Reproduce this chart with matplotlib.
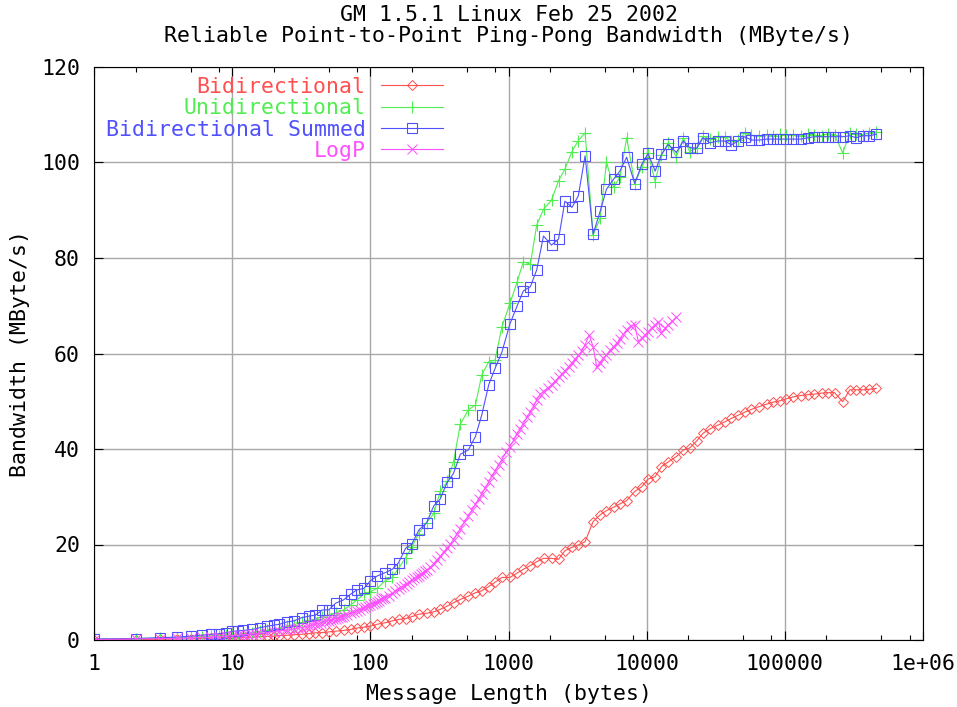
import matplotlib
matplotlib.use('Agg')
import matplotlib.pyplot as plt
from matplotlib.ticker import FixedLocator, LogLocator, NullFormatter

# message lengths (bytes) of the measured curves
lengths = [1, 2, 3, 4, 5, 6, 7, 8, 9, 10, 11, 12, 14,
           16, 18, 20, 22, 25, 28,
           32, 36, 40, 45, 50, 56,
           64, 72, 80, 90, 100, 112,
           128, 144, 160, 180, 200, 224,
           256, 288, 320, 360, 400, 448,
           512, 576, 640, 720, 800, 896,
           1024, 1152, 1280, 1440, 1600, 1792,
           2048, 2304, 2560, 2880, 3200, 3584,
           4096, 4608, 5120, 5760, 6400, 7168,
           8192, 9216, 10240, 11520, 12800, 14336,
           16384, 18432, 20480, 23040, 25600, 28672,
           32768, 36864, 40960, 46080, 51200, 57344,
           65536, 73728, 81920, 92160, 102400, 114688,
           131072, 147456, 163840, 184320, 204800, 229376,
           262144, 294912, 327680, 368640, 409600, 458752]

bidir = [0.1, 0.1, 0.15, 0.2, 0.25, 0.3, 0.35, 0.4, 0.45, 0.5, 0.5, 0.55, 0.6,
         0.7, 0.75, 0.8, 0.9, 1.0, 1.1,
         1.2, 1.35, 1.5, 1.55, 1.7, 1.85,
         2.0, 2.2, 2.5, 2.7, 2.9, 3.3,
         3.6, 4.0, 4.3, 4.5, 4.9, 5.4,
         5.6, 5.9, 6.4, 7.1, 7.8, 8.5,
         9.2, 9.9, 10.3, 11.2, 12.1, 13.1,
         13.1, 14.0, 14.8, 15.6, 16.4, 17.1,
         17.1, 16.9, 18.7, 19.4, 19.9, 20.6,
         24.8, 26.2, 27.1, 27.8, 28.5, 29.2,
         31.1, 32.1, 33.7, 34.2, 36.3, 37.3,
         38.4, 39.8, 40.2, 41.7, 43.3, 44.2,
         45.0, 45.7, 46.4, 47.1, 47.7, 48.3,
         48.9, 49.4, 49.8, 50.1, 50.5, 50.9,
         51.2, 51.4, 51.5, 51.7, 51.8, 51.8,
         49.9, 52.4, 52.4, 52.4, 52.5, 52.7]

unidir = [0.2, 0.3, 0.4, 0.5, 0.6, 0.7, 0.8, 0.9, 1.0, 1.1, 1.2, 1.3, 1.5,
          1.8, 2.0, 2.3, 2.5, 2.9, 3.2,
          3.7, 4.1, 4.4, 4.9, 5.2, 5.6,
          6.3, 7.3, 8.4, 9.6, 10.1, 10.8,
          12.4, 13.1, 15.0, 17.2, 19.5, 22.3,
          24.6, 26.5, 31.1, 33.2, 37.3, 45.2,
          48.2, 49.2, 55.5, 58.3, 58.6, 65.6,
          70.5, 74.9, 79.2, 78.7, 86.9, 90.2,
          92.1, 96.2, 98.6, 102.3, 104.6, 106.2,
          84.8, 88.3, 100.1, 94.8, 96.9, 105.2,
          95.6, 99.0, 101.9, 96.0, 101.5, 104.1,
          101.2, 105.1, 102.3, 103.0, 105.5, 104.9,
          105.4, 105.3, 104.4, 104.7, 106.1, 105.7,
          105.5, 105.8, 105.6, 105.9, 105.7, 105.8,
          105.6, 105.9, 105.7, 105.6, 106.0, 105.8,
          102.0, 106.1, 106.0, 105.8, 106.2, 106.4]

summed = [0.2, 0.3, 0.5, 0.6, 0.8, 1.0, 1.2, 1.3, 1.5, 1.8, 1.9, 2.0, 2.2,
          2.6, 2.9, 3.1, 3.3, 3.8, 4.0,
          4.7, 5.0, 5.2, 6.3, 6.3, 7.7,
          8.4, 9.6, 10.5, 10.8, 12.4, 13.4,
          14.1, 14.8, 16.2, 19.2, 20.1, 23.0,
          24.6, 28.1, 29.5, 33.0, 34.9, 38.9,
          39.8, 42.6, 47.1, 53.5, 56.9, 60.3,
          66.2, 69.9, 73.1, 74.0, 77.5, 84.6,
          82.7, 84.0, 91.9, 90.6, 93.0, 101.4,
          85.0, 89.8, 94.4, 96.5, 98.2, 101.1,
          95.6, 99.6, 101.9, 98.2, 101.7, 103.8,
          102.1, 104.5, 103.1, 103.0, 105.2, 104.1,
          104.5, 104.5, 103.7, 104.5, 105.4, 104.7,
          104.7, 104.9, 104.9, 104.9, 104.9, 104.9,
          104.9, 105.2, 105.4, 105.4, 105.4, 105.4,
          105.4, 105.6, 105.2, 105.6, 105.6, 105.9]

# LogP model is sampled much more densely
logp_lengths = [1, 2, 3, 4, 5, 6, 7, 8, 9, 10, 11, 12, 13, 14, 15, 16,
                18, 20, 22, 24, 26, 28, 30, 32, 34, 36, 38, 40, 42, 44, 46, 48,
                50, 52, 54, 56, 58, 60, 62, 64,
                68, 72, 76, 80, 84, 88, 92, 96, 100, 104, 108, 112, 116, 120, 124, 128,
                136, 144, 152, 160, 168, 176, 184, 192, 200, 208, 216, 224, 232, 240, 248, 256,
                272, 288, 304, 320, 340, 360, 380, 400, 424, 448, 480,
                512, 544, 576, 608, 640, 680, 720, 760, 800, 848, 896, 960,
                1024, 1088, 1152, 1216, 1280, 1360, 1440, 1520, 1600, 1696, 1792, 1920,
                2048, 2176, 2304, 2432, 2560, 2720, 2880, 3040, 3200, 3392, 3584, 3840,
                4096, 4352, 4608, 4864, 5120, 5440, 5760, 6080, 6400, 6784, 7168, 7680,
                8192, 8704, 9216, 9728, 10240, 10880, 11520, 12160, 12800, 13568, 14336, 15360,
                16384]

logp = [0.1, 0.2, 0.3, 0.35, 0.45, 0.55, 0.6, 0.7, 0.8, 0.9, 1.0, 1.05, 1.15, 1.25, 1.3, 1.4,
        1.55, 1.7, 1.9, 2.0, 2.2, 2.3, 2.5, 2.6, 2.8, 2.95, 3.1, 3.3, 3.45, 3.6, 3.75, 3.9,
        4.05, 4.2, 4.35, 4.5, 4.6, 4.75, 4.9, 5.05,
        5.3, 5.6, 5.85, 6.1, 6.35, 6.6, 6.85, 7.1, 7.3, 7.55, 7.8, 8.0, 8.25, 8.5, 8.7, 8.9,
        9.3, 9.75, 10.2, 10.6, 11.0, 11.4, 11.8, 12.2, 12.6, 12.9, 13.2, 13.5, 13.8, 14.1, 14.4, 14.6,
        15.2, 16.0, 16.8, 17.5, 18.4, 19.3, 20.1, 21.0, 22.2, 23.3, 24.7,
        26.0, 27.2, 28.4, 29.5, 30.6, 31.9, 33.1, 34.3, 35.4, 36.7, 37.8, 39.3,
        40.5, 41.8, 43.2, 44.2, 45.3, 46.6, 47.8, 49.0, 50.3, 51.5, 52.0, 52.8,
        53.4, 54.2, 55.0, 55.7, 56.4, 57.2, 58.0, 58.8, 59.6, 60.5, 61.8, 63.9,
        61.4, 57.2, 58.0, 59.0, 59.7, 60.7, 61.4, 62.1, 63.0, 64.0, 65.0, 65.8,
        66.0, 62.5, 63.2, 63.9, 64.6, 65.4, 66.0, 66.7, 64.2, 65.3, 66.0, 66.8,
        67.6]

xticks = [1, 10, 100, 1000, 10000, 100000, 1000000]
xtick_labels = ['1', '10', '100', '1000', '10000', '100000', '1e+06']
yticks = [0, 20, 40, 60, 80, 100, 120]

c_red, c_green, c_blue, c_mag = '#ff5050', '#50ee50', '#5050ff', '#ff50ff'
FONT = 'DejaVu Sans Mono'
FS = 15.5

plt.rcParams['font.family'] = FONT
plt.rcParams['font.size'] = FS

fig = plt.figure(figsize=(9.57, 7.07), dpi=100)
ax = fig.add_axes([94/957, 67/707, 829/957, 573/707])

lw = 0.8
ax.plot(lengths, bidir, color=c_red, lw=lw, marker='D', ms=5.5, mfc='none', mew=0.7,
        label='Bidirectional')
ax.plot(lengths, unidir, color=c_green, lw=lw, marker='+', ms=9, mew=0.8,
        label='Unidirectional')
ax.plot(lengths, summed, color=c_blue, lw=lw, marker='s', ms=6.5, mfc='none', mew=0.8,
        label='Bidirectional Summed')
ax.plot(logp_lengths, logp, color=c_mag, lw=lw, marker='x', ms=7, mew=0.7,
        label='LogP')

ax.set_xscale('log')
ax.set_xlim(1, 1e6)
ax.set_ylim(0, 120)
ax.xaxis.set_major_locator(FixedLocator(xticks))
ax.set_xticklabels(xtick_labels)
ax.xaxis.set_minor_locator(LogLocator(base=10, subs=[2, 5, 8]))
ax.xaxis.set_minor_formatter(NullFormatter())
ax.set_yticks(yticks)

ax.grid(True, which='major', color='#a8a8a8', lw=1.0)
ax.set_axisbelow(True)
for s in ax.spines.values():
    s.set_color('black')
    s.set_linewidth(0.8)
ax.tick_params(which='both', direction='in', top=True, right=True, width=0.8)
ax.tick_params(which='major', length=6.5, pad=10)
ax.tick_params(which='minor', length=3.5)

ax.set_xlabel('Message Length (bytes)', labelpad=7)
ax.set_ylabel('Bandwidth (MByte/s)', labelpad=8)

fig.text(508.5/957, 1 - 15/707, 'GM 1.5.1 Linux Feb 25 2002', ha='center', va='center')
fig.text(508.5/957, 1 - 36/707, 'Reliable Point-to-Point Ping-Pong Bandwidth (MByte/s)',
         ha='center', va='center')

leg = ax.legend(loc='upper right', bbox_to_anchor=(443/957, 1 - 77/707),
                bbox_transform=fig.transFigure, frameon=False, markerfirst=False,
                numpoints=1, handlelength=2.9, handletextpad=0.7, labelspacing=0.06,
                borderpad=0, borderaxespad=0, labelcolor='linecolor')

fig.savefig('out.png', dpi=100)
